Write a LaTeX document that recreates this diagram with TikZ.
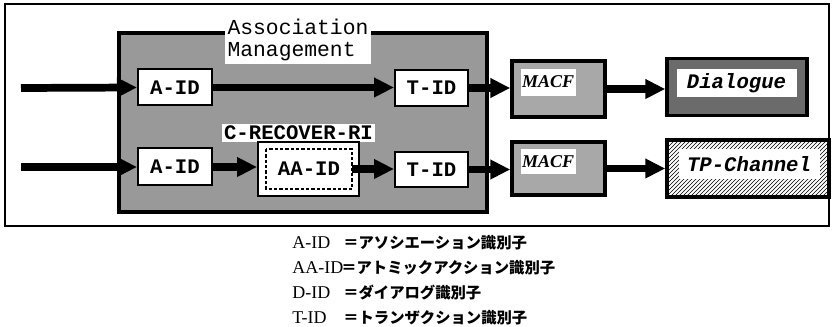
\documentclass[tikz,border=0pt]{standalone}
\usepackage{fontspec}
\setmainfont{Liberation Serif}
\setmonofont{Liberation Mono}
\newfontfamily\jpfont{Noto Sans CJK JP}
\usepackage{tikz}
\usetikzlibrary{patterns}
\usetikzlibrary{positioning}
\usetikzlibrary{arrows.meta}

\tikzset{
  idbox/.style={draw, line width=1.5pt, fill=white, inner sep=0pt,
    font=\ttfamily\bfseries\fontsize{15.5}{15.5}\selectfont},
  heavybox/.style={draw, line width=2.6pt, inner sep=0pt},
  whitelbl/.style={fill=white, inner sep=0pt, anchor=north west},
  flowarr/.style={line width=5.8pt, -{Triangle[length=15pt,width=14pt]}},
  legname/.style={anchor=west, inner sep=0pt, font=\fontsize{13.5}{13.5}\selectfont},
  legtext/.style={anchor=west, inner sep=0pt, font=\jpfont\bfseries\fontsize{11.5}{11.5}\selectfont}
}

\begin{document}
\begin{tikzpicture}[x=0.75pt,y=0.75pt,yscale=-1,xscale=1]
        \useasboundingbox (0,0) rectangle (835,327);

        %outer frame
        \draw [line width=1pt] (5,4) rectangle (829,226) ;

        %Association Management block
        \node [heavybox, fill=black!40, minimum width=276pt, minimum height=134.25pt] (assoc) at (303,122.5) {};
        \node [fill=white, inner sep=2pt, align=left, font=\ttfamily\fontsize{16}{16.5}\selectfont] (assoclbl) at (298,40) {Association\\Management};
        \node [fill=white, inner sep=1.5pt, font=\ttfamily\bfseries\fontsize{15.5}{15.5}\selectfont] (recover) at (298.5,133) {C-RECOVER-RI};

        %upper row
        \coordinate (in1) at (21,88);
        \node [idbox, minimum width=55.5pt, minimum height=27pt] (aid1) at (175,87.5) {A-ID};
        \node [idbox, minimum width=54.75pt, minimum height=27pt] (tid1) at (431.5,88) {T-ID};
        \node [heavybox, fill=black!34, minimum width=69.75pt, minimum height=42pt] (macf1) at (558.5,89) {};
        \node [whitelbl, minimum width=41.25pt, minimum height=20.25pt, font=\bfseries\itshape\fontsize{13.5}{13.5}\selectfont] (macf1lbl) at ([shift={(10,9)}]macf1.north west) {MACF};
        \node [heavybox, fill=black!58, minimum width=105pt, minimum height=42.75pt] (dlg) at (737,87) {};
        \node [whitelbl, minimum width=90pt, minimum height=21pt, font=\ttfamily\bfseries\itshape\fontsize{15.5}{15.5}\selectfont] (dlglbl) at ([shift={(11,12)}]dlg.north west) {Dialogue};

        %lower row
        \coordinate (in2) at (21,167);
        \node [idbox, minimum width=55.5pt, minimum height=27.75pt] (aid2) at (175,167) {A-ID};
        \node [draw, line width=1.5pt, fill=white, minimum width=75.75pt, minimum height=40.5pt] (aaid) at (308.5,169) {};
        \node [idbox, draw=none, fill=none, minimum width=63pt, minimum height=28.5pt] (aaidin) at (309,169) {AA-ID};
        \draw [line width=1.3pt, dash pattern=on 2.4pt off 1.6pt] (aaidin.north west) rectangle (aaidin.south east) ;
        \node [idbox, minimum width=54.75pt, minimum height=26.25pt] (tid2) at (431.5,169.5) {T-ID};
        \node [heavybox, fill=black!34, minimum width=69.75pt, minimum height=39.75pt] (macf2) at (558.5,168.5) {};
        \node [whitelbl, minimum width=41.25pt, minimum height=19pt, font=\bfseries\itshape\fontsize{13.5}{13.5}\selectfont] (macf2lbl) at ([shift={(10,8)}]macf2.north west) {MACF};
        \node [heavybox, pattern=north east lines, minimum width=121.5pt, minimum height=42.75pt] (tp) at (748,168.5) {};
        \node [whitelbl, minimum width=105.75pt, minimum height=23pt, font=\ttfamily\bfseries\itshape\fontsize{15.5}{15.5}\selectfont] (tplbl) at ([shift={(13,10)}]tp.north west) {TP-Channel};

        %arrows
        \draw [flowarr] (in1) -- (aid1.west) ;
        \draw [flowarr] (aid1.east) -- (aid1.east -| tid1.west) ;
        \draw [flowarr] (tid1.east) -- (tid1.east -| macf1.west) ;
        \draw [flowarr] (macf1.east) -- (macf1.east -| dlg.west) ;
        \draw [flowarr] (in2) -- (aid2.west) ;
        \draw [flowarr] (aid2.east) -- (aid2.east -| aaid.west) ;
        \draw [flowarr] (aaidin.east) -- (aaidin.east -| tid2.west) ;
        \draw [flowarr] (tid2.east) -- (tid2.east -| macf2.west) ;
        \draw [flowarr] (macf2.east) -- (macf2.east -| tp.west) ;

        %legend
        \node [legname] (lgA) at (292,243) {A-ID};
        \node [legtext] (lgAtxt) at (343,243) {＝アソシエーション識別子};
        \node [legname] (lgAA) at (292,268) {AA-ID};
        \node [legtext] (lgAAtxt) at (341,268) {＝アトミックアクション識別子};
        \node [legname] (lgD) at (292,293) {D-ID};
        \node [legtext] (lgDtxt) at (343,293) {＝ダイアログ識別子};
        \node [legname] (lgT) at (292,318) {T-ID};
        \node [legtext] (lgTtxt) at (343,318) {＝トランザクション識別子};
\end{tikzpicture}
\end{document}
